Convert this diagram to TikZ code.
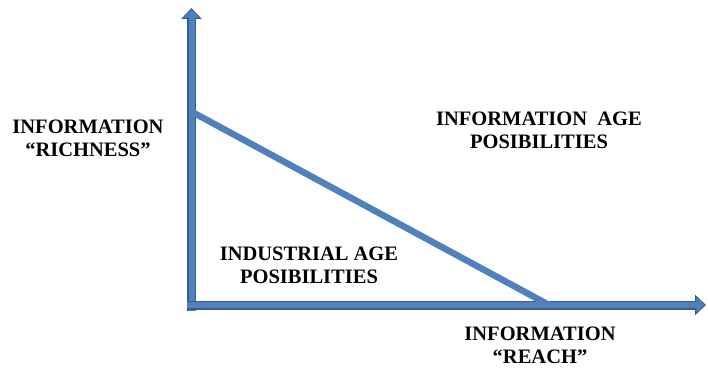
\documentclass[tikz,border=0pt]{standalone}
\usepackage{fontspec}
\setmainfont{Liberation Serif}
\usetikzlibrary{arrows.meta}

\definecolor{axisblue}{HTML}{4F81BD}
\definecolor{axisedge}{HTML}{385D8A}

\begin{document}
\begin{tikzpicture}[x=1pt, y=1pt,
    axis/.style={draw=axisedge, line width=9pt, -{Triangle[width=20pt,length=11pt]},
        postaction={draw=axisblue, line width=6pt, -{Triangle[width=15pt,length=8pt]}, shorten >=1.6pt}},
    frontier/.style={draw=axisblue, line width=6.5pt},
    lbl/.style={align=center, inner sep=0pt, font=\bfseries\fontsize{20.5}{23}\selectfont}]
                \useasboundingbox (0,0) rectangle (708,367);
                % axes
                \coordinate (ybot) at (191.5,56);
                \coordinate (ytop) at (191.5,359);
                \coordinate (xleft) at (187,62);
                \coordinate (xend) at (706,62);
                \coordinate (rich) at (194,254);
                \coordinate (reach) at (549,62);
                \draw[axis] (ybot) -- (ytop);
                \draw[axis] (xleft) -- (xend);
                \draw[frontier] (rich) -- (reach);
                % labels
                \node[lbl] (richness) at (88,229) {INFORMATION\\“RICHNESS”};
                \node[lbl] (infoage) at (539,237) {INFORMATION\ \ AGE\\POSIBILITIES};
                \node[lbl] (indage) at (309,102) {INDUSTRIAL AGE\\POSIBILITIES};
                \node[lbl] (reachlbl) at (540,22) {INFORMATION\\“REACH”};
            \end{tikzpicture}
\end{document}
